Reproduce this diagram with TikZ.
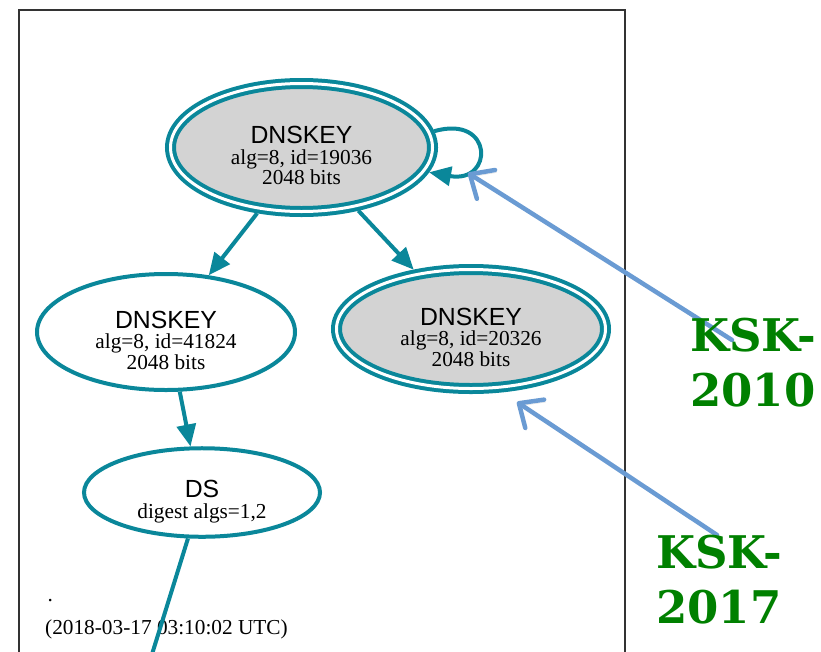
\documentclass[tikz,border=0pt]{standalone}
\usepackage{fontspec}
\setmainfont{Liberation Serif}
\setsansfont{Liberation Sans}
\newfontfamily\kskfont{DejaVu Serif}
\usepackage{tikz}
\usetikzlibrary{shapes.geometric,arrows.meta}
\definecolor{dnsteal}{HTML}{0A879A}
\definecolor{keygray}{HTML}{D3D3D3}
\definecolor{callblue}{HTML}{6A9BD3}
\definecolor{kskgreen}{HTML}{008000}
\newcommand{\rrtype}[1]{{\sffamily\fontsize{24.8}{20.5}\selectfont #1}}
\tikzset{
  rr/.style={ellipse,draw=dnsteal,line width=4pt,inner sep=1pt,align=center,
    font=\fontsize{21.3}{20.5}\selectfont,text height=75pt},
  sep/.style={rr,fill=keygray,double=white,double distance=3pt,outer sep=5.5pt},
  callout/.style={draw=callblue,line width=4.5pt,line cap=round,
    -{Straight Barb[length=19pt,width=34pt,round]},
    preaction={draw=black!45,opacity=.3,transform canvas={shift={(1.5pt,-2.5pt)}}}},
  ksklabel/.style={anchor=north west,inner sep=0pt,align=left,text=kskgreen,
    font=\kskfont\bfseries\fontsize{45}{55}\selectfont}
}
\begin{document}
\begin{tikzpicture}[x=1pt,y=-1pt,>={Triangle[length=22pt,width=19pt]}]
   \useasboundingbox (0,0) rectangle (821,651);
   \draw[line width=2pt,black!80] (19,10) rectangle (625,680);

   \node[sep,minimum width=262pt,minimum height=128pt] (k_0) at (301.5,147.5)
      {\rrtype{DNSKEY}\\alg=8, id=19036\\2048 bits};
   \node[rr,minimum width=258pt,minimum height=116pt] (k_1) at (166,332)
      {\rrtype{DNSKEY}\\alg=8, id=41824\\2048 bits};
   \node[sep,minimum width=269pt,minimum height=119pt] (k_2) at (471,329)
      {\rrtype{DNSKEY}\\alg=8, id=20326\\2048 bits};
   \node[rr,minimum width=236pt,minimum height=87pt,text height=56pt] (ds) at (202,492.5)
      {\rrtype{DS}\\digest algs=1,2};

   \node[font=\fontsize{21.3}{20.5}\selectfont,anchor=base west,inner sep=0pt] (dot) at (47.5,601) {.};
   \node[font=\fontsize{21.3}{20.5}\selectfont,anchor=base west,inner sep=0pt] (stamp) at (45,634)
      {(2018-03-17 03:10:02 UTC)};
   \coordinate (ds_out) at (144,680);

   \path[->,dnsteal,line width=4pt]
    (k_0.236) edge (k_1.53)
    (k_0.312) edge (k_2.134.5)
    (k_1.283) edge (ds.104);
   \draw[dnsteal,line width=4pt] (ds.253) -- (ds_out);
   \draw[->,dnsteal,line width=4pt] (k_0.7) .. controls (494,114) and (494,184) .. (k_0.-11);

   \coordinate (tip_10) at (468,173);
   \coordinate (tail_10) at (732,340);
   \coordinate (tip_17) at (517,402);
   \coordinate (tail_17) at (717,535);
   \draw[callout] (tail_10) -- (tip_10);
   \draw[callout] (tail_17) -- (tip_17);

   \node[ksklabel] (ksk_10) at (690,318) {KSK-\\2010};
   \node[ksklabel] (ksk_17) at (656,535) {KSK-\\2017};
\end{tikzpicture}
\end{document}
